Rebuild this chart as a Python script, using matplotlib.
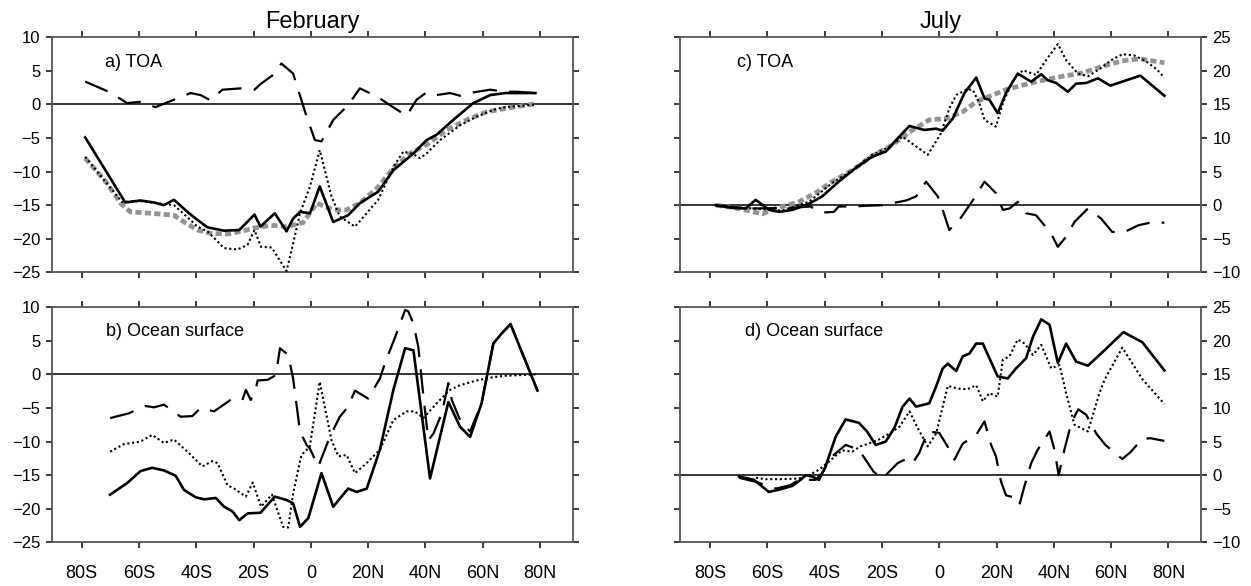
import matplotlib.pyplot as plt

plt.rcParams['font.family'] = ['Liberation Sans', 'DejaVu Sans']

# --- a) February, TOA ---
a_solid_lat = [-78.8, -64.8, -59.5, -54.8, -51.3, -47.8, -43.1, -39.6, -36.1, -30.3, -25.0, -19.7, -17.6, -12.6,
               -8.5, -6.2, -3.8, -0.3, 3.1, 7.8, 13.0, 17.1, 23.5, 28.8, 35.8, 40.4, 43.9, 49.7, 56.7, 62.6, 67.8, 78.4]
a_solid = [-4.9, -14.6, -14.3, -14.6, -15.0, -14.2, -16.0, -17.2, -18.3, -18.8, -18.7, -16.4, -18.2, -16.2,
           -18.9, -17.0, -16.0, -16.2, -12.2, -17.5, -16.5, -14.7, -13.0, -9.8, -7.3, -5.3, -4.5, -2.3, 0.2, 1.4, 1.7, 1.7]
a_dot_lat = [-78.8, -66.0, -59.5, -47.8, -43.1, -39.6, -36.1, -30.3, -25.6, -22.1, -19.7, -17.4, -13.7, -8.5, -6.2,
             -3.8, -0.3, 3.1, 7.2, 10.1, 15.4, 23.5, 28.8, 32.3, 35.8, 38.1, 40.4, 45.1, 52.1, 57.9, 63.7, 67.8, 78.4]
a_dot = [-7.8, -14.5, -14.4, -15.0, -16.8, -18.2, -18.9, -21.4, -21.6, -20.9, -18.7, -21.2, -21.3, -24.8, -20.7,
         -16.2, -12.2, -6.8, -13.7, -16.7, -18.2, -14.2, -9.3, -7.0, -7.4, -8.0, -7.3, -5.3, -3.1, -1.8, -0.8, -0.4, 0.0]
a_gray_lat = [-78.8, -71.2, -66.5, -63.0, -56.0, -47.8, -44.3, -39.6, -35.0, -29.1, -24.4, -19.7, -13.9, -8.5,
              -2.7, 2.0, 7.8, 12.5, 17.1, 23.0, 28.8, 34.6, 40.4, 47.4, 54.4, 61.4, 67.8, 78.4]
a_gray = [-8.0, -11.7, -14.7, -16.0, -16.2, -16.5, -17.5, -18.7, -19.2, -19.3, -18.9, -18.4, -18.0, -18.2,
          -17.6, -14.7, -15.7, -15.7, -14.7, -12.5, -9.5, -7.3, -6.0, -3.8, -2.3, -1.1, -0.6, 0.1]
a_dash_lat = [-78.8, -70.6, -66.0, -64.2, -59.5, -54.3, -46.7, -42.0, -38.5, -35.0, -30.9, -24.4, -19.7, -17.4,
              -13.2, -10.3, -6.2, -1.5, 1.4, 3.7, 7.8, 13.0, 17.1, 23.0, 27.6, 33.4, 36.9, 40.4, 43.9, 48.6,
              52.1, 56.7, 62.6, 67.8, 72.0, 78.4]
a_dash = [3.4, 1.9, 0.7, 0.2, 0.4, -0.4, 0.9, 1.7, 1.4, 0.6, 2.2, 2.4, 2.2, 3.1,
          4.4, 6.1, 4.6, -1.8, -5.3, -5.5, -2.3, -0.1, 2.4, 1.2, -0.1, -1.7, 0.7, 1.8, 1.4, 1.7,
          1.3, 1.8, 2.2, 1.9, 1.9, 1.7]

# --- b) February, ocean surface ---
b_solid_lat = [-70.1, -64.2, -59.5, -55.4, -51.3, -47.2, -44.3, -40.2, -37.3, -33.2, -30.3, -27.4, -25.0, -22.1,
               -17.6, -12.6, -8.5, -6.2, -3.8, -0.9, 3.7, 7.8, 13.0, 16.0, 19.5, 24.1, 28.8, 32.9, 35.8, 41.6,
               48.0, 52.1, 55.6, 59.6, 63.7, 66.6, 69.7, 79.1]
b_solid = [-17.9, -16.2, -14.4, -13.9, -14.3, -15.1, -17.2, -18.3, -18.6, -18.4, -19.7, -20.4, -21.7, -20.7,
           -20.6, -18.2, -18.7, -19.2, -22.7, -21.4, -14.7, -19.7, -17.0, -17.5, -17.0, -11.2, -2.3, 3.9, 3.6, -15.5,
           -4.1, -7.8, -9.3, -4.3, 4.6, 6.1, 7.5, -2.4]
b_dot_lat = [-70.1, -65.4, -59.5, -55.4, -51.3, -47.8, -43.1, -37.9, -34.4, -32.6, -29.1, -26.8, -22.7, -20.3,
             -17.4, -13.6, -9.7, -7.9, -6.2, -3.3, -0.4, 3.1, 7.2, 9.6, 12.5, 15.4, 19.5, 24.1, 28.8, 33.4,
             36.3, 39.3, 43.9, 48.6, 52.1, 57.9, 63.7, 67.8, 78.4]
b_dot = [-11.5, -10.4, -10.0, -9.0, -10.2, -9.7, -11.5, -13.7, -12.9, -13.2, -16.5, -17.0, -18.2, -16.1,
         -19.7, -17.9, -22.7, -22.8, -17.7, -12.0, -10.8, -1.1, -9.8, -12.2, -12.0, -14.7, -13.2, -11.2, -6.8, -5.5,
         -5.5, -6.5, -4.3, -2.3, -1.6, -0.9, -0.4, -0.2, 0.0]
b_dash_lat = [-70.1, -63.6, -57.8, -54.8, -51.3, -49.6, -45.5, -41.4, -38.5, -33.8, -27.4, -23.9, -22.7, -21.0,
              -19.2, -18.6, -15.1, -12.2, -10.8, -7.9, -6.2, -4.4, -3.8, -1.5, -0.4, 2.6, 6.6, 10.1, 13.0, 15.4,
              16.5, 20.0, 24.1, 25.9, 29.9, 32.9, 34.0, 35.8, 37.5, 39.3, 41.0, 42.8, 45.7, 48.0, 49.2, 52.1,
              55.6, 59.6, 63.7, 66.6, 69.7, 79.1]
b_dash = [-6.5, -5.8, -4.7, -4.9, -4.5, -5.0, -6.3, -6.2, -5.0, -5.5, -3.6, -3.8, -2.3, -3.8,
          -2.1, -0.9, -0.8, -0.1, 3.9, 2.9, -0.6, -6.5, -8.5, -10.5, -11.0, -13.7, -9.3, -6.3, -4.8, -2.4,
          -2.7, -3.6, -0.6, 1.7, 6.1, 9.6, 9.4, 7.6, 4.1, -3.3, -9.8, -8.8, -5.8, -1.3, -3.8, -6.8,
          -8.5, -4.3, 4.6, 6.1, 7.5, -2.4]

# --- c) July, TOA ---
c_solid_lat = [-78.0, -72.2, -67.6, -64.1, -59.4, -55.9, -51.3, -45.5, -40.9, -35.1, -29.3, -23.5, -18.6, -15.1,
               -10.4, -5.2, -1.1, 1.2, 4.7, 8.8, 12.9, 15.8, 17.5, 20.4, 23.3, 27.4, 32.1, 35.6, 37.9, 40.8,
               44.9, 47.8, 51.3, 55.4, 59.7, 70.2, 78.6]
c_solid = [0.0, -0.4, -0.5, 0.8, -0.7, -1.0, -0.7, 0.2, 1.3, 3.5, 5.5, 7.2, 8.0, 9.7,
           11.8, 11.2, 11.4, 11.1, 12.9, 16.7, 19.0, 15.9, 15.7, 13.7, 16.7, 19.6, 18.4, 19.5, 18.6, 18.2,
           16.9, 18.1, 18.2, 18.9, 17.8, 19.3, 16.3]
c_dot_lat = [-78.0, -70.0, -62.0, -55.0, -45.5, -37.4, -30.4, -23.5, -17.4, -12.8, -4.0, 0.6, 3.5, 5.9, 9.4,
             11.7, 14.0, 15.8, 19.8, 22.2, 25.7, 29.2, 33.8, 37.3, 41.4, 44.3, 48.4, 52.0, 56.0, 60.0,
             64.0, 68.0, 72.0, 76.0, 78.6]
c_dot = [0.0, -0.3, -0.6, -0.8, 0.5, 3.3, 5.2, 7.5, 8.7, 10.2, 7.5, 10.7, 14.4, 16.4, 17.2,
         17.2, 15.2, 12.7, 11.7, 15.2, 18.6, 20.1, 19.4, 21.6, 24.0, 21.6, 19.6, 19.2, 20.3, 21.6,
         22.5, 22.3, 21.5, 20.2, 19.0]
c_gray_lat = [-78.0, -69.9, -61.8, -57.1, -49.0, -43.2, -37.4, -30.4, -23.5, -17.4, -9.3, -3.5, 2.4, 8.2,
              12.9, 17.5, 23.3, 29.2, 36.2, 43.1, 50.1, 57.1, 63.9, 70.0, 78.6]
c_gray = [0.0, -0.5, -1.3, -0.5, 0.5, 1.8, 3.5, 5.2, 7.3, 8.7, 11.2, 12.7, 12.9, 13.9,
          15.4, 16.2, 17.2, 17.9, 18.6, 19.2, 19.7, 20.7, 21.5, 21.8, 21.2]
c_dash_lat = [-78.0, -66.4, -52.0, -45.0, -40.9, -36.8, -35.1, -30.4, -25.8, -19.8, -15.1, -11.6, -8.1, -4.6,
              -0.5, 1.2, 3.5, 7.0, 11.7, 15.8, 19.8, 22.2, 24.5, 27.4, 30.3, 33.8, 36.7, 39.6, 41.4, 44.3,
              47.2, 51.9, 56.5, 60.4, 64.6, 69.5, 73.7, 78.6]
c_dash = [-0.1, -0.5, -0.4, -0.2, -1.1, -1.0, -0.2, -0.2, -0.1, 0.0, 0.4, 0.7, 1.3, 3.5,
          1.3, -0.7, -3.7, -2.2, 0.7, 3.5, 1.8, -0.7, -0.5, 0.5, -1.2, -1.5, -3.0, -4.7, -6.2, -4.7,
          -2.5, -0.5, -2.0, -4.0, -4.0, -3.0, -2.6, -2.6]

# --- d) July, ocean surface ---
d_solid_lat = [-69.9, -64.7, -59.5, -55.4, -51.3, -48.4, -46.7, -44.4, -42.0, -39.7, -36.2, -32.7, -28.1, -25.2,
               -22.2, -18.7, -15.7, -12.8, -10.4, -8.1, -3.5, -1.1, 1.2, 3.0, 5.9, 8.2, 10.5, 12.9, 15.2, 20.4,
               23.9, 26.8, 30.3, 32.7, 35.6, 38.5, 41.4, 44.3, 47.8, 51.9, 57.7, 64.3, 70.9, 78.6]
d_solid = [-0.2, -0.7, -2.5, -2.1, -1.6, -0.7, 0.0, -0.2, -0.7, 1.3, 5.7, 8.3, 7.8, 6.5,
           4.5, 5.0, 7.0, 10.2, 11.4, 10.2, 10.7, 13.2, 15.9, 16.6, 15.5, 17.7, 18.1, 19.6, 19.6, 14.7,
           14.4, 15.9, 17.4, 20.6, 23.2, 22.4, 16.7, 19.6, 16.9, 16.3, 18.6, 21.3, 19.8, 15.6]
d_dot_lat = [-64.0, -60.6, -54.8, -49.0, -45.5, -42.0, -38.6, -33.9, -30.4, -27.5, -24.6, -21.1, -17.4, -13.9,
             -10.4, -7.5, -4.0, -1.1, 3.0, 6.4, 9.9, 12.9, 15.2, 17.5, 20.4, 22.2, 24.5, 27.4, 29.8, 32.7,
             35.6, 39.1, 42.0, 44.3, 47.2, 51.9, 55.9, 57.7, 63.9, 70.9, 78.6]
d_dot = [-0.4, -0.6, -0.6, -0.5, 0.0, 0.8, 2.0, 3.7, 3.5, 4.3, 4.7, 5.3, 6.2, 7.2,
         9.5, 7.0, 4.3, 6.2, 13.3, 12.9, 12.8, 13.4, 11.0, 12.2, 11.7, 17.2, 17.7, 20.2, 19.6, 17.9,
         19.4, 15.9, 16.4, 12.2, 7.5, 6.5, 12.2, 14.2, 19.0, 14.3, 10.6]
d_dash_lat = [-69.9, -64.0, -57.1, -52.0, -49.0, -43.2, -40.9, -37.4, -32.7, -28.1, -22.9, -19.8, -14.5, -11.6,
              -9.3, -7.0, -4.0, 0.0, 3.0, 5.3, 8.2, 12.9, 15.8, 18.1, 19.8, 21.6, 23.3, 26.8, 28.0, 29.7,
              32.1, 34.4, 38.5, 40.2, 41.7, 43.7, 46.1, 48.5, 51.3, 54.8, 58.0, 63.9, 66.7, 70.9, 73.7, 78.6]
d_dash = [-0.4, -1.0, -2.0, -1.5, -0.7, -0.7, 0.3, 2.8, 4.5, 3.8, 0.5, -0.5, 1.8, 2.4,
          1.8, 3.3, 6.5, 6.3, 4.2, 2.3, 4.7, 6.0, 8.0, 4.5, 2.8, -1.0, -3.0, -3.4, -4.4, -1.7,
          1.8, 3.8, 6.5, 3.8, 0.0, 3.8, 7.8, 9.8, 9.0, 6.2, 4.5, 2.4, 3.4, 5.4, 5.5, 5.1]

lat_ticks = [-80, -60, -40, -20, 0, 20, 40, 60, 80]
lat_labels = ['80S', '60S', '40S', '20S', '0', '20N', '40N', '60N', '80N']
feb_ticks = [-25, -20, -15, -10, -5, 0, 5, 10]
jul_ticks = [-10, -5, 0, 5, 10, 15, 20, 25]

panels = [
    # (rect, label, ylim, yticks, y on right, x labels, series)
    ([0.0413, 0.5353, 0.4167, 0.401], 'a) TOA', (-25, 10), feb_ticks, False, False,
     (a_gray_lat, a_gray, a_dash_lat, a_dash, a_dot_lat, a_dot, a_solid_lat, a_solid)),
    ([0.0413, 0.0746, 0.4167, 0.401], 'b) Ocean surface', (-25, 10), feb_ticks, False, True,
     (None, None, b_dash_lat, b_dash, b_dot_lat, b_dot, b_solid_lat, b_solid)),
    ([0.5436, 0.5353, 0.4167, 0.401], 'c) TOA', (-10, 25), jul_ticks, True, False,
     (c_gray_lat, c_gray, c_dash_lat, c_dash, c_dot_lat, c_dot, c_solid_lat, c_solid)),
    ([0.5436, 0.0746, 0.4167, 0.401], 'd) Ocean surface', (-10, 25), jul_ticks, True, True,
     (None, None, d_dash_lat, d_dash, d_dot_lat, d_dot, d_solid_lat, d_solid)),
]
label_x = [0.102, 0.105, 0.109, 0.125]

fig = plt.figure(figsize=(12.51, 5.86), dpi=100)
axes = []
for (rect, label, ylim, yticks, right, xlab, series), lx in zip(panels, label_x):
    ax = fig.add_axes(rect)
    glat, gval, dlat, dval, tlat, tval, slat, sval = series
    ax.axhline(0, color='black', lw=1.1, zorder=1)
    if glat is not None:
        ax.plot(glat, gval, color='#939393', lw=3.4, linestyle=(0, (1.3, 0.7)), zorder=2)
    ax.plot(dlat, dval, color='black', lw=1.6, linestyle=(0, (11, 5.5)), zorder=3)
    ax.plot(tlat, tval, color='black', lw=1.5, linestyle=(0, (1, 1.3)), zorder=3)
    ax.plot(slat, sval, color='black', lw=1.9, zorder=4)

    ax.set_xlim(-90.5, 91.5)
    ax.set_ylim(*ylim)
    ax.set_xticks(lat_ticks)
    ax.set_xticklabels(lat_labels)
    ax.set_yticks(yticks)
    ax.tick_params(axis='both', direction='out', length=4.5, width=1.4, color='#3a3a3a',
                   top=True, bottom=True, left=True, right=True)
    ax.tick_params(axis='x', labelbottom=xlab, labeltop=False, labelsize=13, pad=12)
    ax.tick_params(axis='y', labelleft=not right, labelright=right, labelsize=12, pad=3.5)
    for sp in ax.spines.values():
        sp.set_linewidth(1.3)
        sp.set_color('#555555')
    ax.text(lx, 0.895, label, transform=ax.transAxes, fontsize=13, ha='left', va='center')
    axes.append(ax)

axes[0].text(0.5, 1.04, 'February', transform=axes[0].transAxes, ha='center', va='baseline', fontsize=17)
axes[2].text(0.5, 1.04, 'July', transform=axes[2].transAxes, ha='center', va='baseline', fontsize=17)

fig.savefig('out.png', dpi=100)
